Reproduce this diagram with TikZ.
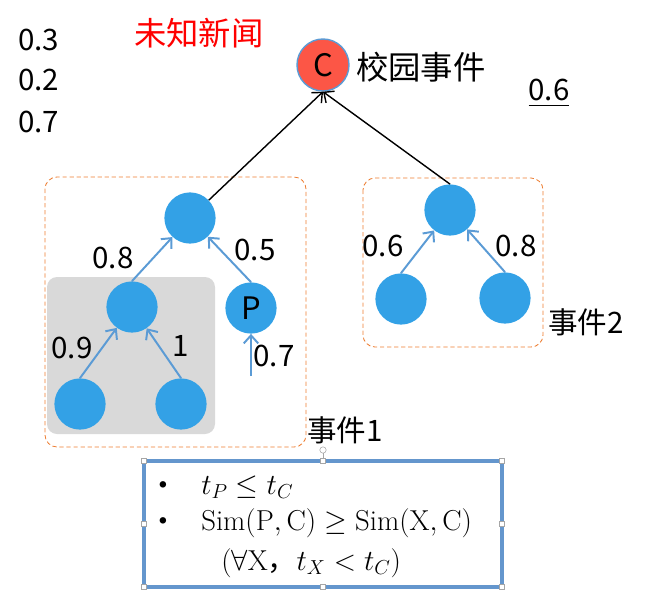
\documentclass[tikz,border=0pt]{standalone}
\usepackage{fontspec}
\newfontfamily\cjk{Noto Sans CJK SC}
\usepackage{amsmath,amssymb}
\usepackage{xcolor}
\usetikzlibrary{arrows.meta}
\definecolor{nodeblue}{RGB}{51,161,230}
\definecolor{edgeblue}{RGB}{91,155,213}
\definecolor{cred}{RGB}{252,86,70}
\definecolor{dashorange}{RGB}{237,125,49}
\definecolor{boxgray}{RGB}{217,217,217}
\definecolor{frameblue}{RGB}{100,150,205}
\tikzset{
  ev/.style={circle, fill=nodeblue, minimum size=1.28cm, inner sep=0pt},
  lbl/.style={inner sep=0pt, font=\cjk\fontsize{21}{25}\selectfont},
  big/.style={inner sep=0pt, font=\cjk\fontsize{23}{27}\selectfont},
  frm/.style={inner sep=0pt, font=\fontsize{20.5}{24}\selectfont},
  uedge/.style={edgeblue, line width=1.4pt, -{Straight Barb[length=2mm,width=3.6mm]}},
  group/.style={dashorange, line width=0.6pt, dash pattern=on 3pt off 2pt, rounded corners=0.3cm},
  handle/.style={draw=gray!70, fill=white, line width=0.3pt, minimum size=1.2mm, inner sep=0pt},
}

\begin{document}
\begin{tikzpicture}[x=0.025cm, y=-0.025cm]
	\useasboundingbox (0,0) rectangle (654,600);
	% groups
	\draw[group] (45,177) rectangle (306,447);
	\draw[group] (363,178) rectangle (543,347);
	\fill[boxgray, rounded corners=0.25cm] (47,277) rectangle (215,434);
	% news node
	\node (c) [circle, fill=cred, draw=edgeblue, line width=1pt, minimum size=1.3cm, inner sep=0pt,
	           font=\cjk\fontsize{22}{26}\selectfont] at (323,65) {C};
	\node (cname) [big, anchor=west] at (356,67) {校园事件};
	\node (unk) [big, text=red] at (199,33) {未知新闻};
	\node (s1) [lbl, anchor=west] at (18,40) {0.3};
	\node (s2) [lbl, anchor=west] at (18,80) {0.2};
	\node (s3) [lbl, anchor=west] at (18,122) {0.7};
	\node (s4) [lbl] at (549,93) {\underline{0.6}};
	% event 1
	\node (a0) [ev] at (190,218) {};
	\node (a1) [ev] at (132,307) {};
	\node (p) [ev, font=\cjk\fontsize{22}{26}\selectfont] at (251,308) {P};
	\node (a2) [ev] at (80,404) {};
	\node (a3) [ev] at (181,404) {};
	\coordinate (p0) at (251,376);
	% event 2
	\node (b0) [ev] at (450,210) {};
	\node (b1) [ev] at (401,299) {};
	\node (b2) [ev] at (505,298) {};
	% weights
	\node (w1) [lbl] at (113,258) {0.8};
	\node (w2) [lbl] at (255,250) {0.5};
	\node (w3) [lbl] at (72,348) {0.9};
	\node (w4) [lbl] at (181,346) {1};
	\node (w5) [lbl] at (274,356) {0.7};
	\node (w6) [lbl] at (383,246) {0.6};
	\node (w7) [lbl] at (516,246) {0.8};
	\node (e1) [lbl, anchor=west] at (307,430) {事件1};
	\node (e2) [lbl, anchor=west] at (548,322) {事件2};
	% edges
	\draw[black, line width=1pt, -{Straight Barb[length=2mm,width=3.6mm]}] (a0) -- (c.south);
	\draw[black, line width=1pt, -{Straight Barb[length=2mm,width=3.6mm]}] (b0.north) -- (c.south);
	\draw[uedge] (a1.north) -- (a0);
	\draw[uedge] (p.north) -- (a0);
	\draw[uedge] (a2.north) -- (a1);
	\draw[uedge] (a3.north) -- (a1);
	\draw[uedge] (p0) -- (p);
	\draw[uedge] (b1.north) -- (b0);
	\draw[uedge] (b2.north) -- (b0);
	% conditions
	\draw[frameblue, line width=2.2pt] (144,461) rectangle (502,587);
	\foreach \x/\y [count=\i] in {144/461, 323/461, 502/461, 144/524, 502/524, 144/587, 323/587, 502/587}
		\node (h\i) [handle] at (\x,\y) {};
	\node (rot) [circle, draw=gray!70, line width=0.4pt, minimum size=1.6mm, inner sep=0pt] at (323,450) {};
	\draw[gray!70, line width=0.4pt] (rot) -- (h2);
	\node (d1) [frm] at (163,487) {\textbullet};
	\node (d2) [frm] at (163,523) {\textbullet};
	\node (c1) [frm, anchor=west] at (201,487) {$t_P \leq t_C$};
	\node (c2) [frm, anchor=west] at (201,523) {$\mathrm{Sim}(\mathrm{P},\mathrm{C}) \geq \mathrm{Sim}(\mathrm{X},\mathrm{C})$};
	\node (c3) [frm, anchor=west] at (221,563) {$(\forall\mathrm{X}$\mbox{\cjk ，}$t_X < t_C)$};
\end{tikzpicture}
\end{document}
